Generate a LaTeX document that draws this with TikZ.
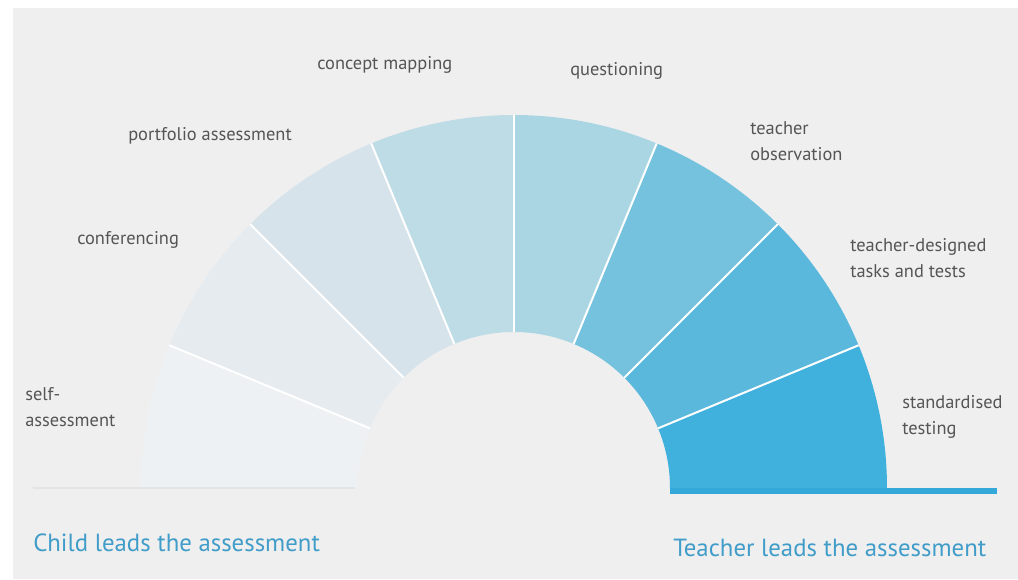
\documentclass[tikz,border=0pt]{standalone}
\usepackage{fontspec}
\setmainfont{PT Sans}
\usetikzlibrary{positioning}
\definecolor{page_gray}{RGB}{239,239,239}
\definecolor{label_gray}{RGB}{85,85,85}
\definecolor{title_blue}{RGB}{64,156,200}
\definecolor{rule_blue}{RGB}{52,168,216}
\definecolor{rule_faint}{RGB}{226,229,232}
% ring colours, child end to teacher end
\definecolor{seg_a}{RGB}{238,241,243}
\definecolor{seg_b}{RGB}{229,235,239}
\definecolor{seg_c}{RGB}{214,227,234}
\definecolor{seg_d}{RGB}{190,220,230}
\definecolor{seg_e}{RGB}{170,214,228}
\definecolor{seg_f}{RGB}{116,194,222}
\definecolor{seg_g}{RGB}{90,184,220}
\definecolor{seg_h}{RGB}{64,176,220}

\begin{document}
\begin{tikzpicture}[x=0.75pt, y=0.75pt,
    label_text/.style={font=\fontsize{13.8}{19.5}\selectfont, text=label_gray,
        align=left, inner sep=0pt},
    side_title/.style={font=\fontsize{18.6}{22}\selectfont, text=title_blue,
        inner sep=0pt}]
    % page
    \fill[white] (-514,-91) rectangle (504,488);
    \fill[page_gray] (-501,-91) rectangle (504,480);
    \useasboundingbox (-514,-91) rectangle (504,488);

    % ring segments
    \foreach \col [count=\i from 0] in {seg_a,seg_b,seg_c,seg_d,seg_e,seg_f,seg_g,seg_h} {
        \pgfmathsetmacro{\sa}{180-22.5*\i}
        \pgfmathsetmacro{\ea}{157.5-22.5*\i}
        \fill[\col] (\sa:373) arc[start angle=\sa, end angle=\ea, radius=373]
            -- (\ea:156) arc[start angle=\ea, end angle=\sa, radius=156] -- cycle;
    }
    \foreach \a in {22.5,45,...,157.5}
        \draw[white, line width=1.5pt] (\a:156) -- (\a:373);

    % base rules
    \draw[rule_faint, line width=2pt] (-481,0) -- (-159,0);
    \draw[rule_blue, line width=4.5pt] (156,-3) -- (483,-3);

    % labels
    \node[label_text, anchor=west] (self) at (-489,81) {self-\\assessment};
    \node[label_text, anchor=west] (conf) at (-437,248) {conferencing};
    \node[label_text, anchor=west] (port) at (-386,352) {portfolio assessment};
    \node[label_text, anchor=west] (concept) at (-197,423) {concept mapping};
    \node[label_text, anchor=west] (quest) at (56,417) {questioning};
    \node[label_text, anchor=west] (observ) at (236,347) {teacher\\observation};
    \node[label_text, anchor=west] (tasks) at (336,230) {teacher-designed\\tasks and tests};
    \node[label_text, anchor=west] (stand) at (388,71) {standardised\\testing};

    \node[side_title, anchor=west] (child) at (-481,-55) {Child leads the assessment};
    \node[side_title, anchor=west] (teacher) at (159,-60) {Teacher leads the assessment};
\end{tikzpicture}
\end{document}
